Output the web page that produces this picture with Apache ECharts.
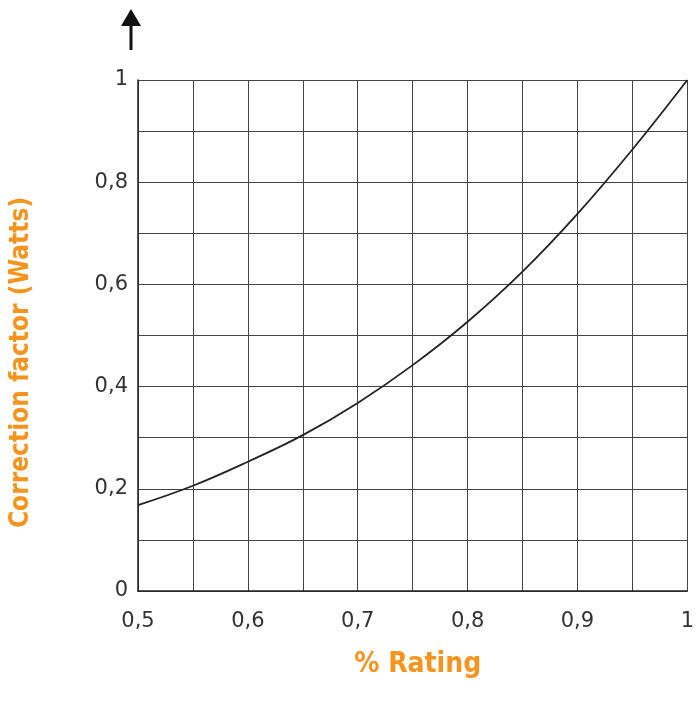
<!DOCTYPE html>
<html>
<head>
<meta charset="utf-8">
<script src="https://cdn.jsdelivr.net/npm/echarts@6/dist/echarts.min.js"></script>
<style>
html,body{margin:0;padding:0;background:#fff;}
#c{width:697px;height:706px;}
</style>
</head>
<body>
<div id="c"></div>
<script>
const rating = [0.5, 0.55, 0.6, 0.65, 0.7, 0.75, 0.8, 0.85, 0.9, 0.95, 1.0];
const correction = [0.168, 0.206, 0.253, 0.305, 0.368, 0.442, 0.527, 0.625, 0.738, 0.864, 1.0];
const xTickLabels = [0.5, 0.6, 0.7, 0.8, 0.9, 1];
const yTickLabels = [0, 0.2, 0.4, 0.6, 0.8, 1];
const xTitle = '% Rating';
const yTitle = 'Correction factor (Watts)';

const makeFmt = ticks => v => {
  const hit = ticks.find(t => Math.abs(t - v) < 1e-6);
  return hit === undefined ? '' : String(hit).replace('.', ',');
};

const chart = echarts.init(document.getElementById('c'));
const orange = '#F7941D';
const gridColor = '#444';
const titleFont = 'Liberation Sans Narrow, DejaVu Sans Condensed, Roboto Condensed, sans-serif';
const tickFont = 'DejaVu Sans, sans-serif';
chart.setOption({
  backgroundColor: '#fff',
  animation: false,
  grid: { left: 138, right: 5, top: 80, bottom: 115 },
  xAxis: {
    type: 'value', min: 0.5, max: 1, interval: 0.05,
    name: xTitle, nameLocation: 'middle', nameGap: 60,
    nameTextStyle: { color: orange, fontSize: 28, fontWeight: 'bold', fontFamily: titleFont, padding: [0, 0, 0, 10] },
    axisLine: { show: true, lineStyle: { color: '#222', width: 1.5 } },
    axisTick: { show: false },
    axisLabel: { formatter: makeFmt(xTickLabels), color: '#333', fontSize: 21, fontFamily: tickFont, margin: 20 },
    splitLine: { show: true, lineStyle: { color: gridColor, width: 1 } }
  },
  yAxis: {
    type: 'value', min: 0, max: 1, interval: 0.1,
    name: yTitle, nameLocation: 'middle', nameGap: 104,
    nameTextStyle: { color: orange, fontSize: 26, fontWeight: 'bold', fontFamily: titleFont, padding: [0, 54, 0, 0] },
    axisLine: { show: true, lineStyle: { color: '#222', width: 1.5 } },
    axisTick: { show: false },
    axisLabel: { formatter: makeFmt(yTickLabels), color: '#333', fontSize: 21, fontFamily: tickFont, margin: 10 },
    splitLine: { show: true, lineStyle: { color: gridColor, width: 1 } }
  },
  graphic: [
    { type: 'line', shape: { x1: 131, y1: 26, x2: 131, y2: 50 }, style: { stroke: '#111', lineWidth: 3 } },
    { type: 'polygon', shape: { points: [[121, 26], [141, 26], [131, 9]] }, style: { fill: '#111' } }
  ],
  series: [{
    type: 'line',
    data: rating.map((x, i) => [x, correction[i]]),
    smooth: 0.4,
    showSymbol: false,
    lineStyle: { color: '#222', width: 1.8 }
  }]
});
</script>
</body>
</html>
